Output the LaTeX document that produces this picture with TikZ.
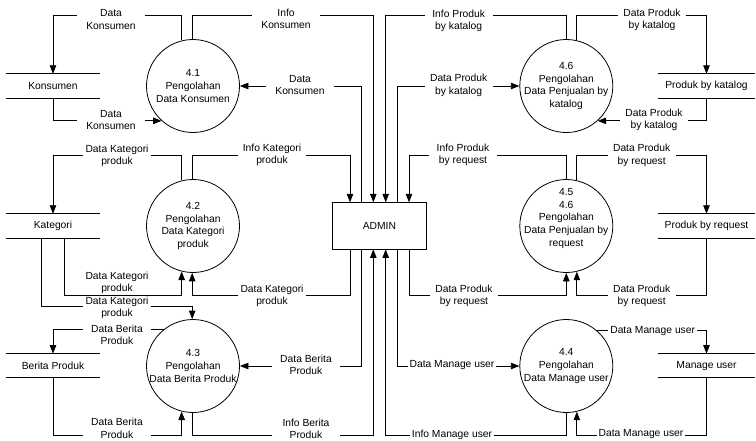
\documentclass[tikz,border=0pt]{standalone}
\usepackage{fontspec}
\setmainfont{Liberation Sans}
\usetikzlibrary{arrows.meta}
\begin{document}
\begin{tikzpicture}[x=1pt,y=-1pt,
  every node/.style={font=\fontsize{10.3}{12.3}\selectfont},
  proc/.style={circle,draw,line width=0.8pt,minimum size=93pt,inner sep=0pt},
  ptext/.style={align=center,inner sep=0pt,font=\fontsize{10.3}{12.8}\selectfont},
  store/.style={minimum height=23.7pt,inner sep=0pt},
  ent/.style={draw,line width=0.8pt,minimum width=93.3pt,minimum height=46.3pt,inner sep=0pt},
  flow/.style={line width=0.8pt,-{Triangle[length=8.5pt,width=6.5pt]}},
  plain/.style={line width=0.8pt},
  lab/.style={fill=white,align=center,inner xsep=2pt,inner ysep=0.5pt,minimum width=68pt},
]
\useasboundingbox (0,0) rectangle (756,440);

% processes
\node[proc] (c41) at (193,86) {};
\node[proc] (c42) at (193,226) {};
\node[proc] (c43) at (193,366) {};
\node[proc] (c46) at (566.3,86) {};
\node[proc] (c45) at (566.3,226) {};
\node[proc] (c44) at (566.3,366) {};
\node[ptext] (t41) at (c41) {4.1\\Pengolahan\\Data Konsumen};
\node[ptext] (t42) at (c42) {4.2\\Pengolahan\\Data Kategori\\produk};
\node[ptext] (t43) at (c43) {4.3\\Pengolahan\\Data Berita Produk};
\node[ptext] (t46) at (c46) {4.6\\Pengolahan\\Data Penjualan by\\katalog};
\node[ptext] (t45) at (566.3,218.5) {4.5\\4.6\\Pengolahan\\Data Penjualan by\\request};
\node[ptext] (t44) at (c44) {4.4\\Pengolahan\\Data Manage user};

% entity
\node[ent] (admin) at (379.35,225.85) {ADMIN};

% data stores
\node[store,minimum width=94pt] (kons) at (53,85.85) {Konsumen};
\node[store,minimum width=94pt] (kat) at (53,225.85) {Kategori};
\node[store,minimum width=94pt] (ber) at (53,365.7) {Berita Produk};
\node[store,minimum width=96pt] (pk) at (706.5,85.85) {Produk by katalog};
\node[store,minimum width=96pt] (pr) at (706.5,225.85) {Produk by request};
\node[store,minimum width=96pt] (mu) at (706.5,365.7) {Manage user};
\foreach \s in {kons,kat,ber,pk,pr,mu}{
  \draw[plain] (\s.north west) -- (\s.north east) (\s.south west) -- (\s.south east);
}

% helper levels and columns
\coordinate (yA) at (0,15.7);
\coordinate (yD) at (0,155.7);
\coordinate (yE) at (0,295);
\coordinate (yF) at (0,306.7);
\coordinate (yI) at (0,435);
\coordinate (xa1) at (350,0);
\coordinate (xa2) at (361.7,0);
\coordinate (xa3) at (373.3,0);
\coordinate (xa4) at (385.7,0);
\coordinate (xa5) at (397.7,0);
\coordinate (xa6) at (409,0);
\coordinate (xk1) at (41.3,0);
\coordinate (xk2) at (64.3,0);

% 4.1
\draw[flow] (c41.104) |- (kons.north |- yA) -- (kons.north);
\draw[flow] (c41.91) |- (xa3 |- yA) -- (xa3 |- admin.north);
\draw[flow] (kons.south) |- (c41.228);
\draw[flow] (xa2 |- admin.north) |- (c41.east);
% 4.6
\draw[flow] (c46.north) |- (xa4 |- yA) -- (xa4 |- admin.north);
\draw[flow] (c46.77) |- (pk.north |- yA) -- (pk.north);
\draw[flow] (pk.south) |- (c46.312);
\draw[flow] (xa5 |- admin.north) |- (c46.west);
% 4.2
\draw[flow] (c42.104) |- (kat.north |- yD) -- (kat.north);
\draw[flow] (c42.91) |- (xa1 |- yD) -- (xa1 |- admin.north);
\draw[flow] (xk2 |- kat.south) |- (c42.256 |- yE) -- (c42.256);
\draw[flow] (xa1 |- admin.south) |- (c42.269 |- yE) -- (c42.269);
\draw[flow] (xk1 |- kat.south) |- (c43.91 |- yF) -- (c43.91);
% 4.5
\draw[flow] (c45.north) |- (xa6 |- yD) -- (xa6 |- admin.north);
\draw[flow] (c45.77) |- (pr.north |- yD) -- (pr.north);
\draw[flow] (xa6 |- admin.south) |- (c45.south |- yE) -- (c45.south);
\draw[flow] (pr.south) |- (c45.283 |- yE) -- (c45.283);
% 4.3
\draw[flow] (c43.128) -| (ber.north);
\draw[flow] (xa2 |- admin.south) |- (c43.east);
\draw[flow] (ber.south) |- (c43.256 |- yI) -- (c43.256);
\draw[flow] (c43.269) |- (xa3 |- yI) -- (xa3 |- admin.south);
% 4.4
\draw[flow] (c44.49) -| (mu.north);
\draw[flow] (xa5 |- admin.south) |- (c44.west);
\draw[flow] (mu.south) |- (c44.283 |- yI) -- (c44.283);
\draw[flow] (c44.south) |- (xa4 |- yI) -- (xa4 |- admin.south);

% labels
\node[lab] (l1) at (111,19.5) {Data\\Konsumen};
\node[lab] (l2) at (286,19) {Info\\Konsumen};
\node[lab] (l3) at (111,120.3) {Data\\Konsumen};
\node[lab] (l4) at (300,85.3) {Data\\Konsumen};
\node[lab] (l5) at (458.7,20.7) {Info Produk\\by katalog};
\node[lab] (l6) at (652,20) {Data Produk\\by katalog};
\node[lab] (l7) at (458.7,85.2) {Data Produk\\by katalog};
\node[lab] (l8) at (654,119.7) {Data Produk\\by katalog};
\node[lab] (l9) at (117,155.8) {Data Kategori\\produk};
\node[lab] (l10) at (272,155) {Info Kategori\\produk};
\node[lab] (l12) at (272,295.8) {Data Kategori\\produk};
\node[lab] (l13) at (117,308) {Data Kategori\\produk};
\node[lab,fill=none] (l11) at (117,283) {Data Kategori\\produk};
\node[lab] (l14) at (463,154.7) {Info Produk\\by request};
\node[lab] (l15) at (641.7,155.3) {Data Produk\\by request};
\node[lab] (l16) at (464,295.5) {Data Produk\\by request};
\node[lab] (l17) at (641.7,295.5) {Data Produk\\by request};
\node[lab] (l18) at (117,334.5) {Data Berita\\Produk};
\node[lab] (l19) at (306,364.8) {Data Berita\\Produk};
\node[lab] (l20) at (117,428.3) {Data Berita\\Produk};
\node[lab] (l21) at (306,428.8) {Info Berita\\Produk};
\node[lab] (l22) at (652.7,331) {Data Manage user};
\node[lab] (l23) at (452,365) {Data Manage user};
\node[lab] (l24) at (641,434.5) {Data Manage user};
\node[lab] (l25) at (452,434.5) {Info Manage user};
\end{tikzpicture}
\end{document}
